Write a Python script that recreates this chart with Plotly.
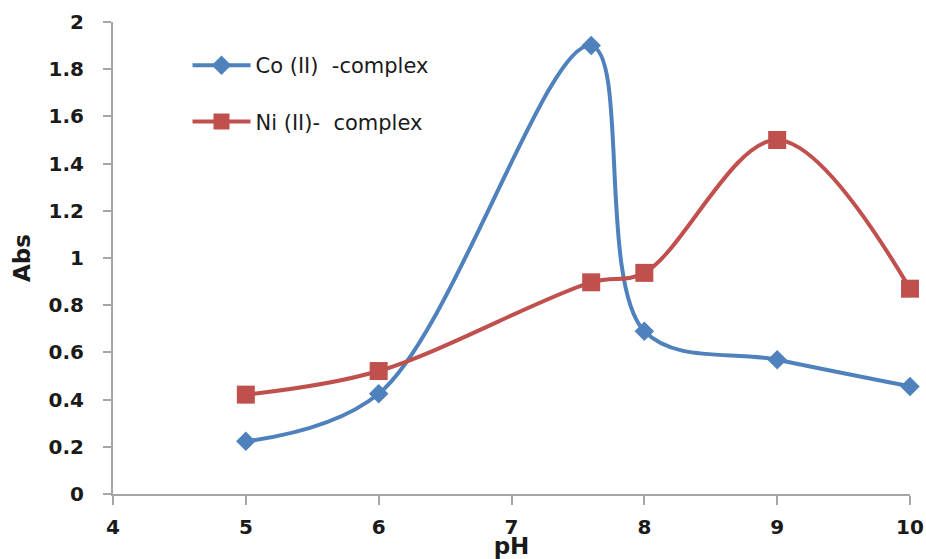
import plotly.graph_objects as go

ph_co = [5, 6, 7.6, 8, 9, 10]
abs_co = [0.223, 0.425, 1.9, 0.69, 0.569, 0.456]
ph_ni = [5, 6, 7.6, 8, 9, 10]
abs_ni = [0.421, 0.521, 0.897, 0.937, 1.5, 0.87]
x_ticks = [4, 5, 6, 7, 8, 9, 10]
y_ticks = [0, 0.2, 0.4, 0.6, 0.8, 1, 1.2, 1.4, 1.6, 1.8, 2]
y_ticklabels = ["0", "0.2", "0.4", "0.6", "0.8", "1", "1.2", "1.4", "1.6", "1.8", "2"]

BLUE = "#4F81BD"
RED = "#C0504D"
FONT = "DejaVu Sans"
AXIS_GRAY = "#a6a6a6"

fig = go.Figure()
fig.add_trace(go.Scatter(
    x=ph_co, y=abs_co, name="Co (II)  -complex", mode="lines+markers",
    line=dict(color=BLUE, width=4, shape="spline", smoothing=1.0),
    marker=dict(symbol="diamond", size=15, color=BLUE),
    legendgroup="co", cliponaxis=False,
))
fig.add_trace(go.Scatter(
    x=ph_ni, y=abs_ni, name="Ni (II)-  complex", mode="lines+markers",
    line=dict(color=RED, width=4, shape="spline", smoothing=1.0),
    marker=dict(symbol="square", size=18, color=RED),
    legendgroup="ni", cliponaxis=False,
))

fig.update_layout(
    width=926, height=559,
    margin=dict(l=113, r=16, t=22, b=65),
    paper_bgcolor="white", plot_bgcolor="white",
    font=dict(family=FONT, size=19, color="#1a1a1a"),
    showlegend=True,
    legend=dict(
        x=0.0935, y=0.951, xanchor="left", yanchor="top",
        bgcolor="rgba(0,0,0,0)", font=dict(family=FONT, size=21, color="#1a1a1a"),
        tracegroupgap=26, itemwidth=58,
    ),
    xaxis=dict(
        range=[4, 10], tickvals=x_ticks, ticktext=[str(v) for v in x_ticks],
        showgrid=False, zeroline=False, showline=True, linecolor=AXIS_GRAY, linewidth=2,
        ticks="outside", ticklen=9, tickcolor=AXIS_GRAY, tickwidth=2,
        tickfont=dict(family=FONT, size=20, weight="bold", color="#1a1a1a"),
        ticklabelstandoff=5,
        title=dict(text="<b>pH</b>", font=dict(family=FONT, size=23), standoff=3),
        automargin=False,
    ),
    yaxis=dict(
        range=[0, 2], tickvals=y_ticks, ticktext=y_ticklabels,
        showgrid=False, zeroline=False, showline=True, linecolor=AXIS_GRAY, linewidth=2,
        ticks="outside", ticklen=8, tickcolor=AXIS_GRAY, tickwidth=2,
        tickfont=dict(family=FONT, size=20, weight="bold", color="#1a1a1a"),
        ticklabelstandoff=15,
        title=dict(text="<b>Abs</b>", font=dict(family=FONT, size=23), standoff=12),
        automargin=False,
    ),
)

fig.write_html(
    "out.html",
    config={"displayModeBar": False},
    post_script="document.body.style.margin='0';document.body.style.overflow='hidden';",
)
